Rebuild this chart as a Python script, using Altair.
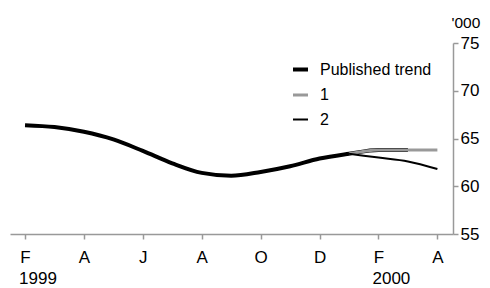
import altair as alt
import pandas as pd

# ---- data ----
month_letters = ["F", "M", "A", "M", "J", "J", "A", "S", "O", "N", "D", "J", "F", "M", "A"]
trend_months = list(range(0, 14))
trend_values = [66.4, 66.2, 65.7, 64.9, 63.7, 62.4, 61.4, 61.1, 61.5, 62.1, 62.9, 63.4, 63.8, 63.8]
s1_months = [11, 12, 13, 14]
s1_values = [63.4, 63.8, 63.8, 63.8]
s2_months = [11, 12, 13, 14]
s2_values = [63.4, 63.0, 62.6, 61.8]
series_names = ["Published trend", "1", "2"]
series_colors = ["#000000", "#999999", "#000000"]
series_widths = [4, 2, 2]
year_labels = ["1999", "2000"]
year_months = [0, 12]
y_ticks = [55, 60, 65, 70, 75]
x_ticks = [0, 2, 4, 6, 8, 10, 12, 14]

rows = []
for m, v in zip(trend_months, trend_values):
    rows.append({"m": m, "v": v, "series": "Published trend"})
for m, v in zip(s1_months, s1_values):
    rows.append({"m": m, "v": v, "series": "1"})
for m, v in zip(s2_months, s2_values):
    rows.append({"m": m, "v": v, "series": "2"})
df = pd.DataFrame(rows)
years = pd.DataFrame({"m": year_months, "label": year_labels})

FONT = "Liberation Sans"
gray = "#999999"

label_expr = "[" + ",".join('"%s"' % s for s in month_letters) + "][datum.value]"

xscale = alt.Scale(domain=[-0.51, 14.53], nice=False, zero=False)
yscale = alt.Scale(domain=[55, 75], nice=False, zero=False)

legend_kw = dict(title=None, orient="none", legendX=281, legendY=17,
                 symbolType="stroke", symbolSize=225,
                 labelFontSize=16, labelOffset=10, rowPadding=8, labelColor="#000")

base = alt.Chart(df)

def layer(name):
    return base.transform_filter(alt.datum.series == name).mark_line(
        interpolate="monotone", strokeCap="butt"
    ).encode(
        x=alt.X("m:Q", scale=xscale, axis=alt.Axis(
            values=x_ticks, labelExpr=label_expr, title=None, grid=False,
            domainColor=gray, tickColor=gray, tickSize=5, labelPadding=10,
            labelFontSize=17, labelColor="#000", domainWidth=1.5, tickWidth=1.5,
        )),
        y=alt.Y("v:Q", scale=yscale, axis=alt.Axis(
            orient="right", values=y_ticks, grid=False, title="'000",
            titleAngle=0, titleAlign="left", titleBaseline="middle",
            titleX=-2, titleY=-21, titleFontWeight="normal", titleFontSize=15.5,
            titleColor="#000", domainColor=gray, tickColor=gray, tickSize=5,
            labelPadding=2, labelFontSize=17, labelColor="#000",
            domainWidth=1.5, tickWidth=1.5,
        )),
        color=alt.Color("series:N", scale=alt.Scale(domain=series_names, range=series_colors),
                        legend=alt.Legend(**legend_kw)),
        strokeWidth=alt.StrokeWidth("series:N", scale=alt.Scale(domain=series_names, range=series_widths),
                                    legend=alt.Legend(**legend_kw)),
    )

years_layer = alt.Chart(years).mark_text(
    align="left", baseline="alphabetic", dx=-6, fontSize=17, font=FONT, color="#000"
).encode(
    x=alt.X("m:Q", scale=xscale),
    y=alt.value(241),
    text="label:N",
)

chart = alt.layer(layer("Published trend"), layer("1"), layer("2"), years_layer).properties(
    width=443, height=191,
    autosize=alt.AutoSizeParams(type="none"),
    padding={"left": 2, "top": 35, "right": 29, "bottom": 55},
).configure(font=FONT).configure_view(stroke=None)

chart.save("out.html", embed_options={"renderer": "svg", "actions": False})
